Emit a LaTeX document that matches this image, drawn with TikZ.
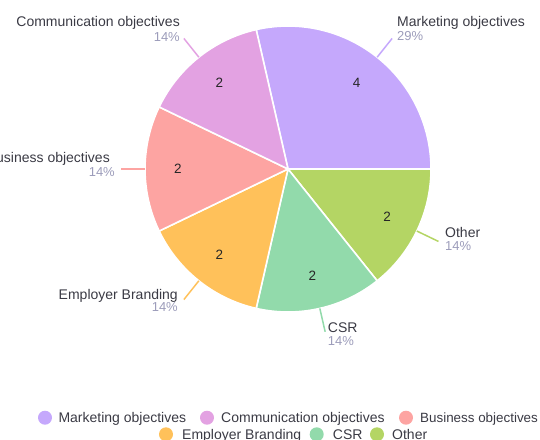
\documentclass[tikz,border=0pt]{standalone}
\usepackage{fontspec}
\setmainfont{Liberation Sans}
\definecolor{mkt}{HTML}{C5A8FC}
\definecolor{com}{HTML}{E3A2E2}
\definecolor{bus}{HTML}{FDA4A2}
\definecolor{emp}{HTML}{FFC15A}
\definecolor{csr}{HTML}{92DAAB}
\definecolor{oth}{HTML}{B4D564}
\definecolor{ttlc}{HTML}{3A3A44}
\definecolor{pctc}{HTML}{9C9CBA}
\begin{document}
\begin{tikzpicture}[x=1pt,y=1pt,
  ttl/.style={inner sep=0pt,text=ttlc,font=\fontsize{14}{16}\selectfont},
  pct/.style={inner sep=0pt,text=pctc,font=\fontsize{13}{15}\selectfont},
  numlbl/.style={inner sep=0pt,text=black!85,font=\fontsize{13.5}{15}\selectfont},
  slicefill/.style={draw=white,line width=1.6pt,line join=round},
  leader/.style={line width=1.5pt},
  legdot/.style={circle,inner sep=0pt,minimum size=14pt}]
\useasboundingbox (0,0) rectangle (540,-439);
\clip (0,0) rectangle (540,-439);
\coordinate (c) at (288,-169);
% slices
\foreach \a/\b/\col in {102.857/0/mkt,0/-51.429/oth,-51.429/-102.857/csr,-102.857/-154.286/emp,-154.286/-205.714/bus,-205.714/-257.143/com}{
  \fill[\col,slicefill] (c) -- ([shift={(\a:143)}]c) arc[start angle=\a,end angle=\b,radius=143] -- cycle;
}
% value labels
\node[numlbl] (nmkt) at ([shift={(51.43:110)}]c) {4};
\node[numlbl] (noth) at ([shift={(-25.71:110)}]c) {2};
\node[numlbl] (ncsr) at ([shift={(-77.14:110)}]c) {2};
\node[numlbl] (nemp) at ([shift={(-128.57:110)}]c) {2};
\node[numlbl] (nbus) at ([shift={(180:110)}]c) {2};
\node[numlbl] (ncom) at ([shift={(128.57:110)}]c) {2};
% leader lines
\foreach \m/\col/\nm in {51.43/mkt/mkt,-25.71/oth/oth,-77.14/csr/csr,-128.57/emp/emp,180/bus/bus,128.57/com/com}{
  \coordinate (e\nm) at ([shift={(\m:143)}]c);
  \coordinate (o\nm) at ([shift={(\m:167)}]c);
  \draw[\col,leader] (e\nm) -- (o\nm);
}
% outside labels
\node[ttl,anchor=base west] (tmkt) at (397,-26.7) {Marketing objectives};
\node[pct,anchor=base west] (pmkt) at (397,-40.7) {29\%};
\node[ttl,anchor=base east] (tcom) at (180,-26.7) {Communication objectives};
\node[pct,anchor=base east] (pcom) at (180,-41) {14\%};
\node[ttl,anchor=base east] (tbus) at (110,-162.7) {Business objectives};
\node[pct,anchor=base east] (pbus) at (115,-176) {14\%};
\node[ttl,anchor=base west] (toth) at (445,-237.3) {Other};
\node[pct,anchor=base west] (poth) at (445,-250.7) {14\%};
\node[ttl,anchor=base east] (temp) at (178,-299.3) {Employer Branding};
\node[pct,anchor=base east] (pemp) at (178,-311.7) {14\%};
\node[ttl,anchor=base west] (tcsr) at (327.7,-332.7) {CSR};
\node[pct,anchor=base west] (pcsr) at (327.7,-345) {14\%};
% legend
\node[legdot,fill=mkt] (lmkt) at (45,-417.7) {};
\node[ttl,anchor=base west] (lmktt) at (58.3,-422.3) {Marketing objectives};
\node[legdot,fill=com] (lcom) at (207,-417.7) {};
\node[ttl,anchor=base west] (lcomt) at (221,-422.3) {Communication objectives};
\node[legdot,fill=bus] (lbus) at (406,-417.7) {};
\node[ttl,anchor=base west,font=\fontsize{13.4}{16}\selectfont] (lbust) at (420,-422.3) {Business objectives};
\node[legdot,fill=emp] (lemp) at (166,-434.3) {};
\node[ttl,anchor=base west] (lempt) at (182,-439.3) {Employer Branding};
\node[legdot,fill=csr] (lcsr) at (316.7,-434.3) {};
\node[ttl,anchor=base west] (lcsrt) at (332.7,-439.3) {CSR};
\node[legdot,fill=oth] (loth) at (377,-434.3) {};
\node[ttl,anchor=base west] (lotht) at (392,-439.3) {Other};
\end{tikzpicture}
\end{document}
